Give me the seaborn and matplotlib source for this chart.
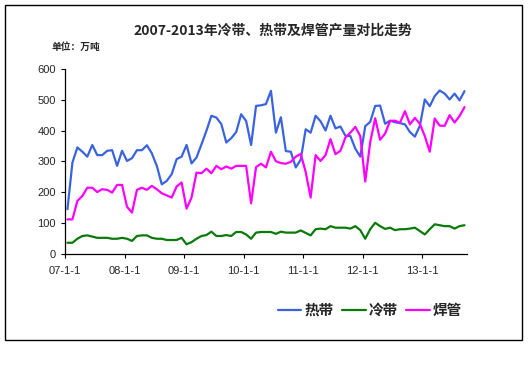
import numpy as np
import pandas as pd
import matplotlib
matplotlib.use("Agg")
import matplotlib.pyplot as plt
import seaborn as sns

# --- data (monthly, 2007-01 .. 2013-09, unit: 10k tons) ---
hot_strip = [144, 296, 345, 331, 315, 353, 320, 320, 334, 336, 285, 334,
             301, 310, 336, 336, 352, 326, 285, 225, 236, 258, 307, 315,
             353, 293, 312, 355, 399, 448, 442, 421, 361, 375, 395, 453,
             431, 353, 480, 482, 486, 529, 393, 443, 333, 331, 280, 305,
             404, 393, 448, 430, 400, 448, 407, 413, 383, 382, 341, 315,
             414, 428, 480, 481, 422, 432, 427, 424, 420, 395, 380, 415,
             501, 479, 512, 530, 520, 501, 520, 498, 528]
cold_strip = [35, 35, 48, 57, 59, 55, 51, 51, 51, 48, 48, 51,
              48, 41, 57, 59, 59, 51, 48, 48, 44, 44, 44, 51,
              30, 37, 48, 57, 60, 71, 57, 57, 60, 57, 70, 70,
              62, 48, 68, 70, 70, 70, 64, 71, 68, 68, 68, 75,
              67, 59, 79, 81, 79, 89, 84, 84, 84, 81, 89, 76,
              48, 79, 100, 89, 80, 84, 76, 79, 79, 81, 84, 73,
              62, 79, 95, 92, 89, 89, 81, 89, 92]
welded_pipe = [111, 111, 171, 187, 214, 214, 200, 209, 207, 198, 223, 223,
               152, 133, 207, 214, 207, 220, 209, 196, 189, 182, 218, 231,
               146, 182, 263, 261, 276, 261, 285, 274, 283, 276, 285, 285,
               285, 163, 281, 292, 280, 331, 300, 294, 292, 298, 315, 324,
               265, 182, 320, 301, 320, 372, 323, 334, 377, 393, 412, 382,
               234, 362, 440, 370, 390, 431, 432, 425, 463, 420, 441, 422,
               382, 331, 439, 416, 415, 450, 426, 447, 476]
year_ticks = [0, 12, 24, 36, 48, 60, 72]
year_labels = ["07-1-1", "08-1-1", "09-1-1", "10-1-1", "11-1-1", "12-1-1", "13-1-1"]
series_names = ["热带", "冷带", "焊管"]

n = len(hot_strip)
month = np.arange(n) + 0.5
df = pd.DataFrame({
    "month": np.tile(month, 3),
    "value": hot_strip + cold_strip + welded_pipe,
    "series": np.repeat(series_names, n),
})

sns.set_style("ticks")
plt.rcParams['font.family'] = ['Liberation Sans', 'Noto Sans CJK SC', 'DejaVu Sans']
cjk = ['Noto Sans CJK SC', 'DejaVu Sans']

fig = plt.figure(figsize=(5.3, 3.84), dpi=100)
ax = fig.add_axes([0.1226, 0.3398, 0.7585, 0.4805])

palette = {"热带": "#3a63e0", "冷带": "#0a7a0a", "焊管": "#ff00ff"}
sns.lineplot(data=df, x="month", y="value", hue="series", palette=palette,
             linewidth=1.6, ax=ax, legend=False)

ax.set_xlim(0, 81)
ax.set_ylim(0, 600)
ax.set_yticks(range(0, 601, 100))
ax.set_xticks(year_ticks)
ax.set_xticklabels(year_labels)
ax.set_xlabel("")
ax.set_ylabel("")
ax.tick_params(axis='both', labelsize=8, length=3, width=0.8, color='black')
ax.tick_params(axis='x', pad=6)
sns.despine(ax=ax)
for s in ["left", "bottom"]:
    ax.spines[s].set_color("black")
    ax.spines[s].set_linewidth(0.9)

# title and unit
fig.text(0.515, 0.92, "2007-2013年冷带、热带及焊管产量对比走势", ha="center", va="center",
         fontsize=10, fontweight="bold", family=cjk)
fig.text(0.097, 0.878, "单位：万吨", ha="left", va="center",
         fontsize=7, fontweight="bold", family=cjk)

# legend
handles = [plt.Line2D([], [], color=palette[k], lw=1.6) for k in series_names]
fig.legend(handles, series_names, loc="center", bbox_to_anchor=(0.698, 0.193), ncol=3,
           frameon=False, handlelength=1.6, handletextpad=0.2, columnspacing=0.6,
           prop={'family': cjk, 'size': 10.5, 'weight': 'bold'})

# outer border
fig.patches.append(plt.Rectangle((0.01, 0.115), 0.975, 0.872, transform=fig.transFigure,
                                 fill=False, edgecolor="black", linewidth=1.0))

fig.savefig("out.png", dpi=100, facecolor="white")
